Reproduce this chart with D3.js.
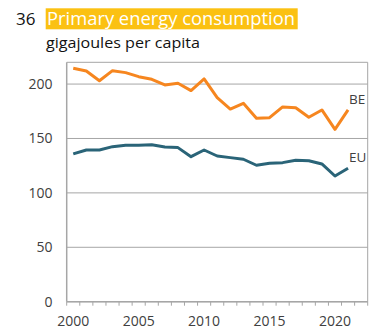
<!DOCTYPE html>
<html>
<head>
<meta charset="utf-8">
<script src="https://cdn.jsdelivr.net/npm/d3@7"></script>
<style>
  html, body { margin: 0; padding: 0; background: #fff; }
  svg { display: block; }
  text { font-family: "Open Sans", "Noto Sans", sans-serif; }
</style>
</head>
<body>
<svg id="chart" width="377" height="331"></svg>
<script>
// Primary energy consumption, gigajoules per capita
const years = d3.range(2000, 2022);
const axisYears = d3.range(2000, 2023);          // category slots incl. an empty 2022
const tickLabels = [2000, 2005, 2010, 2015, 2020];
const yTicks = [0, 50, 100, 150, 200];

const beValues = [214.5, 212, 203, 212.3, 210.5, 206.8, 204.4, 199.2, 200.7, 194,
                  204.7, 187.5, 177, 182.3, 168.5, 169.1, 179, 178.3, 169.5, 176.2,
                  158.4, 176.2];
const euValues = [135.8, 139.4, 139.4, 142.5, 143.7, 143.7, 144.3, 142.2, 141.6, 133.3,
                  139.4, 133.9, 132.4, 130.9, 125.4, 127.2, 127.8, 130, 129.6, 126.6,
                  115.5, 122.6];

const seriesNames = ["BE", "EU"];
const seriesColors = ["#F6861F", "#2A6478"];

const svg = d3.select("#chart");
const plotLeft = 66.7, plotRight = 367.7, plotTop = 62.3, plotBottom = 301.7;

const x = d3.scaleBand().domain(axisYears).range([plotLeft, plotRight]).padding(0);
const y = d3.scaleLinear().domain([0, 220]).range([plotBottom, plotTop]);

// Title block
svg.append("text").attr("x", 16).attr("y", 25)
  .attr("font-size", 17).attr("fill", "#111").text("36");
svg.append("rect").attr("x", 45.7).attr("y", 8.3).attr("width", 252).attr("height", 21)
  .attr("fill", "#FBC112");
svg.append("text").attr("x", 47).attr("y", 25)
  .attr("font-size", 18).attr("fill", "#fff")
  .attr("textLength", 248).attr("lengthAdjust", "spacingAndGlyphs")
  .text("Primary energy consumption");
svg.append("text").attr("x", 46).attr("y", 48)
  .attr("font-size", 14).attr("fill", "#111")
  .attr("textLength", 154).attr("lengthAdjust", "spacingAndGlyphs")
  .text("gigajoules per capita");

// Plot frame and horizontal gridlines
svg.append("g").selectAll("line").data(yTicks.concat([220])).join("line")
  .attr("x1", plotLeft).attr("x2", plotRight)
  .attr("y1", d => y(d)).attr("y2", d => y(d))
  .attr("stroke", "#a6a6a6").attr("stroke-width", 1);
svg.append("line").attr("x1", plotLeft).attr("x2", plotLeft).attr("y1", y(220)).attr("y2", y(0))
  .attr("stroke", "#a6a6a6").attr("stroke-width", 1.5);
svg.append("line").attr("x1", plotRight).attr("x2", plotRight).attr("y1", y(220)).attr("y2", y(0))
  .attr("stroke", "#a6a6a6").attr("stroke-width", 1);

// Y axis labels
svg.append("g").selectAll("text").data(yTicks).join("text")
  .attr("x", 52.5).attr("y", d => y(d)).attr("dy", "0.35em")
  .attr("text-anchor", "end").attr("font-size", 14).attr("fill", "#404040")
  .text(d => d);

// X axis: baseline, category-boundary ticks, labels
svg.append("line").attr("x1", plotLeft).attr("x2", plotRight).attr("y1", plotBottom).attr("y2", plotBottom)
  .attr("stroke", "#a6a6a6").attr("stroke-width", 1.5);
svg.append("g").selectAll("line").data(axisYears.concat([2023])).join("line")
  .attr("x1", d => d === 2023 ? plotRight : x(d)).attr("x2", d => d === 2023 ? plotRight : x(d))
  .attr("y1", plotBottom).attr("y2", plotBottom + 4)
  .attr("stroke", "#a6a6a6").attr("stroke-width", 1);
svg.append("g").selectAll("text").data(tickLabels).join("text")
  .attr("x", d => x(d) + x.bandwidth() / 2).attr("y", 326)
  .attr("text-anchor", "middle").attr("font-size", 14).attr("fill", "#404040")
  .text(d => d);

// Series lines
const line = d3.line()
  .x((d, i) => x(years[i]) + x.bandwidth() / 2)
  .y(d => y(d));

[beValues, euValues].forEach((vals, k) => {
  svg.append("path").datum(vals)
    .attr("d", line)
    .attr("fill", "none")
    .attr("stroke", seriesColors[k])
    .attr("stroke-width", 3)
    .attr("stroke-linejoin", "round");
  const last = vals[vals.length - 1];
  svg.append("text")
    .attr("x", x(years[years.length - 1]) + x.bandwidth() / 2 + 1)
    .attr("y", y(last) - 6)
    .attr("font-size", 13.5).attr("fill", "#404040")
    .text(seriesNames[k]);
});
</script>
</body>
</html>
